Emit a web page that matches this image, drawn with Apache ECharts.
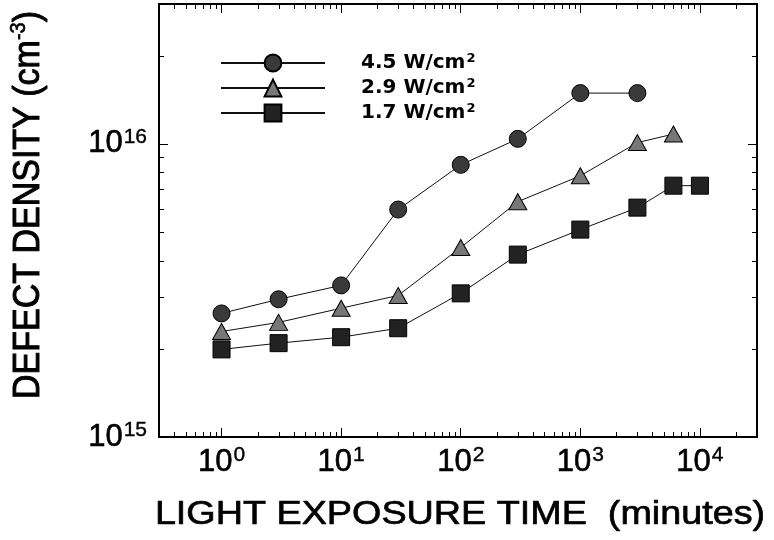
<!DOCTYPE html>
<html><head><meta charset="utf-8">
<script src="https://cdn.jsdelivr.net/npm/echarts@6/dist/echarts.min.js"></script>
<style>html,body{margin:0;padding:0;background:#fff}#c{width:774px;height:540px}</style>
</head><body><div id="c"></div>
<script>
// ---- data ----
const seriesNames = ['4.5 W/cm2', '2.9 W/cm2', '1.7 W/cm2'];
const legendMain = ['4.5 W/cm', '2.9 W/cm', '1.7 W/cm'];
const timeHigh = [1, 3, 10, 30, 100, 300, 1000, 3000];
const densityHigh = [2.64e15, 2.95e15, 3.29e15, 5.97e15, 8.48e15, 1.04e16, 1.49e16, 1.49e16];
const timeMid = [1, 3, 10, 30, 100, 300, 1000, 3000, 6000];
const densityMid = [2.29e15, 2.46e15, 2.75e15, 3.04e15, 4.43e15, 6.35e15, 7.78e15, 1.01e16, 1.08e16];
const timeLow = [1, 3, 10, 30, 100, 300, 1000, 3000, 6000, 10000];
const densityLow = [1.99e15, 2.09e15, 2.19e15, 2.35e15, 3.09e15, 4.19e15, 5.10e15, 6.06e15, 7.20e15, 7.20e15];
// axis ranges and minor ticks
const xMin = 0.3, xMax = 30000, yMin = 1e15, yMax = 3e16;
const xMinorTicks = [0.4,0.5,0.6,0.7,0.8,0.9, 2,3,4,5,6,7,8,9, 20,30,40,50,60,70,80,90,
  200,300,400,500,600,700,800,900, 2000,3000,4000,5000,6000,7000,8000,9000, 20000];
const yMinorTicks = [2e15,3e15,4e15,5e15,6e15,7e15,8e15,9e15, 2e16];

function pairs(xs, ys) { return xs.map((x, i) => [x, ys[i]]); }
function expLabel(v) {
  const e = Math.round(Math.log10(v));
  if (Math.abs(v / Math.pow(10, e) - 1) > 1e-6) return '';
  return '{b|10}{s|' + e + '}';
}
const labelRich = {
  b: { fontFamily: 'Liberation Sans', fontSize: 31, color: '#000', lineHeight: 34, textBorderColor: '#000', textBorderWidth: 0.6 },
  s: { fontFamily: 'Liberation Sans', fontSize: 21, color: '#000', lineHeight: 22, verticalAlign: 'top', textBorderColor: '#000', textBorderWidth: 0.4, padding: [0, 0, 0, 1] }
};
const frameLine = { show: true, lineStyle: { color: '#000', width: 2 } };
const majorTick = { show: true, inside: true, length: 9, lineStyle: { color: '#000', width: 1 } };

const chart = echarts.init(document.getElementById('c'), null, { renderer: 'canvas' });
const markerBase = { borderColor: '#000', borderWidth: 1 };
chart.setOption({
  animation: false,
  backgroundColor: '#fff',
  grid: { left: 159, right: 17, top: 4, bottom: 103 },
  xAxis: [
    { type: 'log', logBase: 10, min: xMin, max: xMax, position: 'bottom',
      axisLine: frameLine, axisTick: majorTick, splitLine: { show: false },
      axisLabel: { formatter: expLabel, rich: labelRich, margin: 8, showMinLabel: false, showMaxLabel: false } },
    { type: 'log', logBase: 10, min: xMin, max: xMax, position: 'top',
      axisLine: frameLine, axisTick: majorTick, splitLine: { show: false }, axisLabel: { show: false } }
  ],
  yAxis: [
    { type: 'log', logBase: 10, min: yMin, max: yMax, position: 'left',
      axisLine: frameLine, axisTick: majorTick, splitLine: { show: false },
      axisLabel: { formatter: expLabel, rich: labelRich, margin: 12, showMaxLabel: false } },
    { type: 'log', logBase: 10, min: yMin, max: yMax, position: 'right',
      axisLine: frameLine, axisTick: majorTick, splitLine: { show: false }, axisLabel: { show: false } }
  ],
  legend: {
    data: seriesNames, orient: 'vertical', left: 220, top: 52, padding: 0,
    itemWidth: 104, itemHeight: 21, itemGap: 4,
    formatter: function (name) { return '{t|' + legendMain[seriesNames.indexOf(name)] + '}{s|2}'; },
    textStyle: {
      padding: [0, 0, 0, 31],
      rich: {
        t: { fontFamily: 'DejaVu Sans', fontWeight: 'bold', fontSize: 20, color: '#000', lineHeight: 22 },
        s: { fontFamily: 'DejaVu Sans', fontWeight: 'bold', fontSize: 13, color: '#000', lineHeight: 22, verticalAlign: 'top', padding: [0,0,0,1] }
      }
    }
  },
  series: [
    { name: seriesNames[0], type: 'line', data: pairs(timeHigh, densityHigh),
      symbol: 'circle', symbolSize: 17,
      itemStyle: Object.assign({ color: '#3a3a3a' }, markerBase),
      lineStyle: { color: '#111', width: 1 }, z: 5 },
    { name: seriesNames[1], type: 'line', data: pairs(timeMid, densityMid),
      symbol: 'triangle', symbolSize: [18, 16],
      itemStyle: Object.assign({ color: '#777777' }, markerBase),
      lineStyle: { color: '#111', width: 1 }, z: 4 },
    { name: seriesNames[2], type: 'line', data: pairs(timeLow, densityLow),
      symbol: 'rect', symbolSize: 17,
      itemStyle: Object.assign({ color: '#222222' }, markerBase),
      lineStyle: { color: '#111', width: 1 }, z: 3 },
    { type: 'custom', silent: true, data: xMinorTicks.map(v => [v, yMin]),
      renderItem: function (params, api) {
        const v = api.value(0);
        const pb = api.coord([v, yMin]);
        const pt = api.coord([v, yMax]);
        const x = Math.round(pb[0]) + 0.5;
        return { type: 'group', children: [
          { type: 'line', shape: { x1: x, y1: pb[1], x2: x, y2: pb[1] - 5 }, style: { stroke: '#000', lineWidth: 1 } },
          { type: 'line', shape: { x1: x, y1: pt[1], x2: x, y2: pt[1] + 5 }, style: { stroke: '#000', lineWidth: 1 } }
        ] };
      } },
    { type: 'custom', silent: true, data: yMinorTicks.map(v => [1, v]),
      renderItem: function (params, api) {
        const v = api.value(1);
        const pl = api.coord([xMin, v]);
        const pr = api.coord([xMax, v]);
        const y = Math.round(pl[1]) + 0.5;
        return { type: 'group', children: [
          { type: 'line', shape: { x1: pl[0], y1: y, x2: pl[0] + 5, y2: y }, style: { stroke: '#000', lineWidth: 1 } },
          { type: 'line', shape: { x1: pr[0], y1: y, x2: pr[0] - 5, y2: y }, style: { stroke: '#000', lineWidth: 1 } }
        ] };
      } }
  ],
  graphic: [
    { type: 'text', x: 460, y: 515, scaleX: 1.11, silent: true,
      style: { text: 'LIGHT EXPOSURE TIME  (minutes)', textAlign: 'center', textVerticalAlign: 'middle',
        font: '34px "Liberation Sans"', fill: '#000', stroke: '#000', lineWidth: 0.7 } },
    { type: 'text', x: 29, y: 205, rotation: Math.PI / 2, scaleY: 1.1, silent: true,
      style: { text: '{a|DEFECT DENSITY (cm}{s|-3}{a|)}', textAlign: 'center', textVerticalAlign: 'middle',
        rich: {
          a: { fontFamily: 'Liberation Sans', fontSize: 34, fill: '#000', lineHeight: 38, stroke: '#000', lineWidth: 0.9 },
          s: { fontFamily: 'Liberation Sans', fontSize: 20, fill: '#000', lineHeight: 24, verticalAlign: 'top', stroke: '#000', lineWidth: 0.6 }
        } } }
  ]
});
</script></body></html>
